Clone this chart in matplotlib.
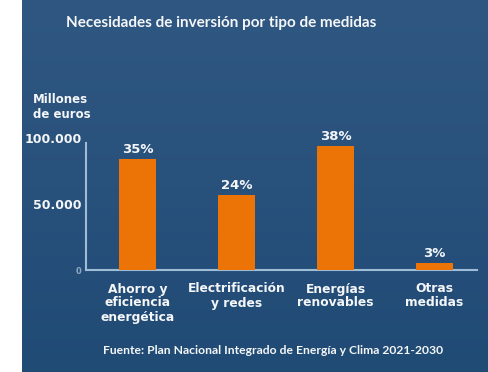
import numpy as np
import matplotlib.pyplot as plt
from matplotlib.colors import LinearSegmentedColormap

# data (millones de euros)
categorias = ['Ahorro y\neficiencia\nenergética', 'Electrificación\ny redes',
              'Energías\nrenovables', 'Otras\nmedidas']
inversion = [84000, 57000, 94000, 5500]
porcentajes = ['35%', '24%', '38%', '3%']
ticks_y = [0, 50000, 100000]
ticks_y_labels = ['0', '50.000', '100.000']

naranja = '#ec7306'
blanco = '#f4f6f8'
linea = '#9fbcd6'

fig = plt.figure(figsize=(4.88, 3.72), dpi=100)
fig.patch.set_facecolor('white')

# blue backdrop with a soft vertical gradient
bg = fig.add_axes([22 / 488, 0, 1 - 22 / 488, 1])
bg.set_axis_off()
grad = np.linspace(0, 1, 256).reshape(-1, 1)
cmap = LinearSegmentedColormap.from_list('fondo', ['#2f5782', '#28517c', '#204b75'])
bg.imshow(grad, aspect='auto', cmap=cmap, extent=[0, 1, 0, 1], origin='upper')
bg.set_xlim(0, 1)
bg.set_ylim(0, 1)

ax = fig.add_axes([86 / 488, 102 / 372, (477 - 86) / 488, 132 / 372])
ax.set_facecolor('none')
x = np.arange(len(categorias))
ax.bar(x, inversion, width=0.37, color=naranja, zorder=3)
ax.set_xlim(-0.52, 3.43)
ax.set_ylim(0, 100000)

for s in ['top', 'right']:
    ax.spines[s].set_visible(False)
ax.spines['left'].set_color(linea)
ax.spines['bottom'].set_color(linea)
ax.spines['left'].set_linewidth(1.5)
ax.spines['bottom'].set_linewidth(1.5)
ax.spines['left'].set_bounds(0, 96000)

ax.set_yticks(ticks_y)
ax.set_yticklabels(ticks_y_labels, fontsize=9, fontweight='bold', color=blanco)
ax.tick_params(axis='y', length=0, pad=3)
lbl0 = ax.get_yticklabels()[0]
lbl0.set_fontsize(6)
lbl0.set_color('#8fa9c2')

ax.set_xticks(x)
ax.set_xticklabels(categorias, fontsize=8.8, fontweight='bold', color=blanco,
                   linespacing=1.1, multialignment='center')
ax.tick_params(axis='x', length=0, pad=9)

for xi, v, p in zip(x, inversion, porcentajes):
    ax.text(xi, v + 2000, p, ha='center', va='bottom', fontsize=9.5,
            fontweight='bold', color=blanco, clip_on=False)

fig.text(66 / 488, 1 - 23 / 372, 'Necesidades de inversión por tipo de medidas',
         fontsize=11, fontweight='bold', family='Lato', color=blanco,
         ha='left', va='center')
fig.text(33 / 488, 1 - 107 / 372, 'Millones\nde euros', fontsize=8.5,
         fontweight='bold', color=blanco, ha='left', va='center', linespacing=1.2)
fig.text(103 / 488, 1 - 350 / 372,
         'Fuente: Plan Nacional Integrado de Energía y Clima 2021-2030',
         fontsize=8.7, fontweight='bold', family='Lato', color=blanco,
         ha='left', va='center')

fig.savefig('out.png', dpi=100, facecolor=fig.get_facecolor())
